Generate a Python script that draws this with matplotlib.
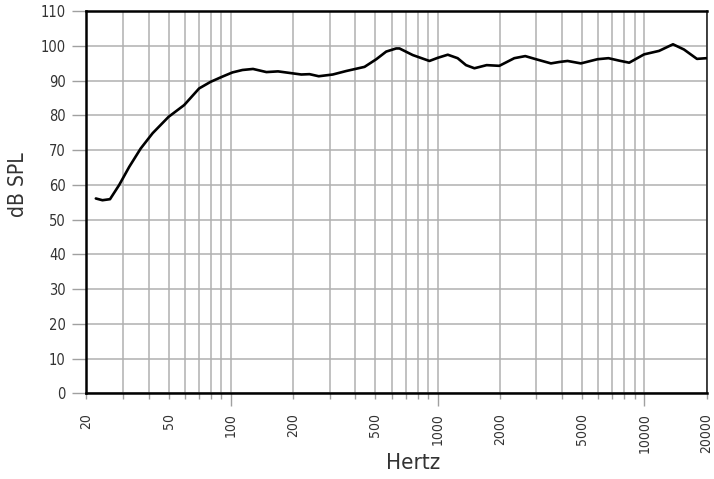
import matplotlib
matplotlib.use("Agg")
import matplotlib.pyplot as plt
from matplotlib.ticker import FixedLocator, FixedFormatter

freq_hz = [22.2, 23.9, 26.0, 28.8, 32.2, 36.6, 41.8, 49.9, 59.4, 70.2, 79.8, 91.0,
           101.7, 113.7, 127.9, 148.5, 169, 219, 240, 266, 311, 361, 443, 505, 564,
           630, 654, 758, 913, 1001, 1120, 1250, 1372, 1507, 1727, 1989, 2350, 2655,
           2992, 3535, 3875, 4255, 4934, 5935, 6709, 7553, 8451, 9979, 11790, 13770,
           15560, 17980, 20000]
spl_db = [56.1, 55.6, 55.9, 60.0, 65.2, 70.5, 74.9, 79.6, 83.0, 87.8, 89.7, 91.2,
          92.4, 93.1, 93.4, 92.5, 92.7, 91.8, 91.9, 91.3, 91.8, 92.8, 94.0, 96.2, 98.4,
          99.3, 99.3, 97.4, 95.7, 96.6, 97.5, 96.5, 94.5, 93.6, 94.5, 94.3, 96.5, 97.1,
          96.2, 95.0, 95.4, 95.7, 95.0, 96.2, 96.5, 95.8, 95.2, 97.6, 98.6, 100.5,
          99.0, 96.3, 96.5]

grid_freqs = [20, 30, 40, 50, 60, 70, 80, 90, 100, 200, 300, 400, 500, 600, 700, 800,
              900, 1000, 2000, 3000, 4000, 5000, 6000, 7000, 8000, 9000, 10000, 20000]
labeled_freqs = [20, 50, 100, 200, 500, 1000, 2000, 5000, 10000, 20000]
decade_freqs = [100, 1000, 10000]
y_ticks = list(range(0, 111, 10))

font = ['DejaVu Sans']
txt = '#333333'

fig = plt.figure(figsize=(7.14, 4.79), dpi=100)
ax = fig.add_axes([0.1211, 0.1789, 0.8684, 0.7975])
ax.set_xscale('log')
ax.set_xlim(20, 20000)
ax.set_ylim(0, 110)

ax.plot(freq_hz, spl_db, color='black', lw=1.9, solid_joinstyle='round',
        solid_capstyle='round', zorder=3)

ax.xaxis.set_major_locator(FixedLocator(grid_freqs))
ax.xaxis.set_minor_locator(FixedLocator([]))
ax.xaxis.set_major_formatter(FixedFormatter(
    [str(f) if f in labeled_freqs else '' for f in grid_freqs]))
ax.set_yticks(y_ticks)

ax.grid(True, which='major', color='#b0b0b0', lw=1.1, zorder=0)
ax.set_axisbelow(True)

ax.tick_params(axis='x', length=4, width=1, color='#a0a0a0', pad=10,
               labelsize=10, labelcolor=txt, labelrotation=90)
ax.tick_params(axis='y', length=10, width=1, color='#a0a0a0', pad=5,
               labelsize=10.5, labelcolor=txt)
for t, f in zip(ax.xaxis.get_major_ticks(), grid_freqs):
    if f in decade_freqs:
        t.tick1line.set_markersize(9)
for lab in ax.get_xticklabels() + ax.get_yticklabels():
    lab.set_family(font)
    lab.set_stretch('condensed')

for s in ['left', 'bottom', 'top']:
    ax.spines[s].set_linewidth(1.8)
    ax.spines[s].set_color('black')
ax.spines['right'].set_linewidth(1.2)
ax.spines['right'].set_color('#222222')

fig.text(18 / 714, 1 - 185 / 479, 'dB SPL', rotation=90, ha='center', va='center',
         family=font, stretch='condensed', fontsize=15, color=txt)
fig.text(413 / 714, 1 - 463 / 479, 'Hertz', ha='center', va='center',
         family=font, stretch='condensed', fontsize=16, color=txt)

fig.savefig('out.png', dpi=100)
